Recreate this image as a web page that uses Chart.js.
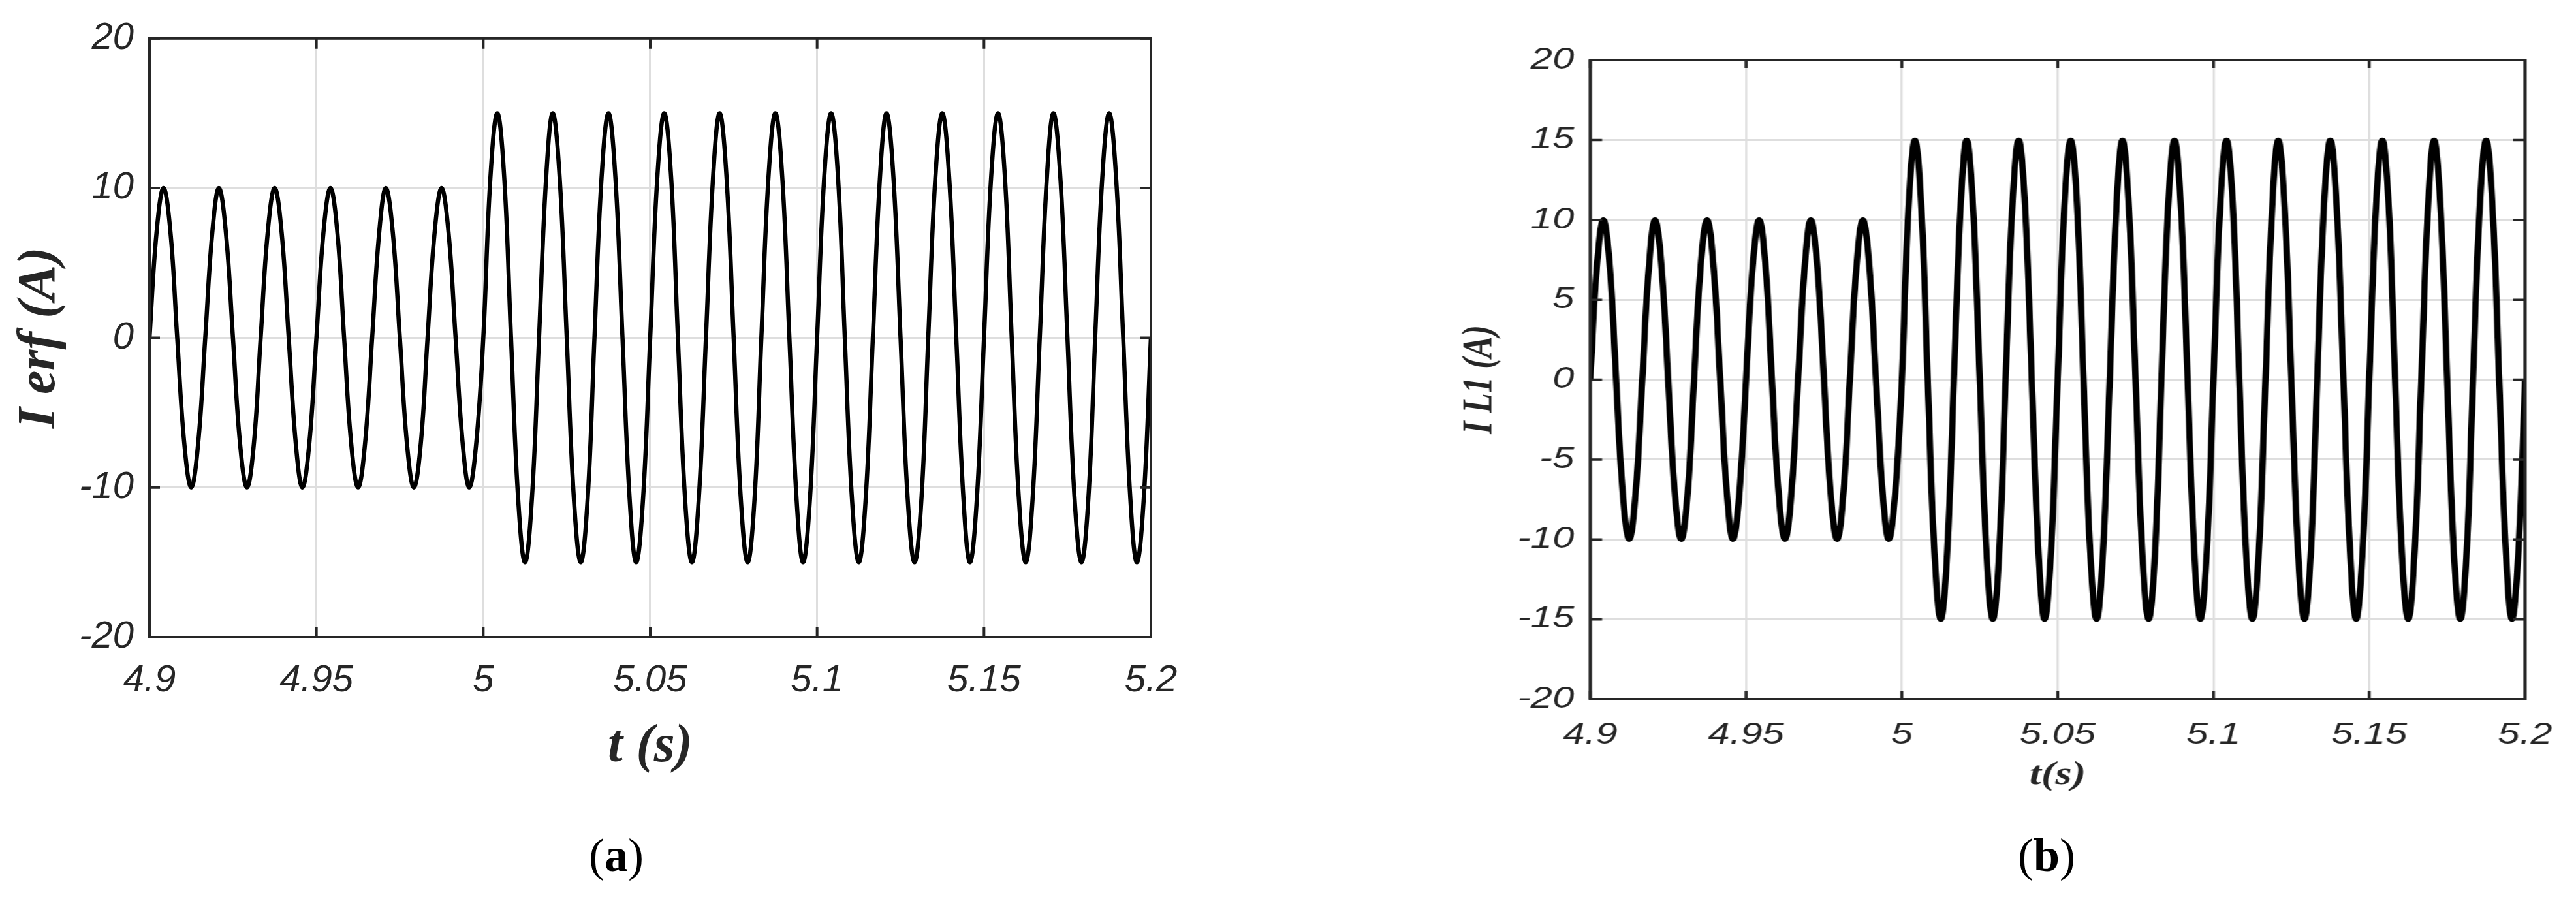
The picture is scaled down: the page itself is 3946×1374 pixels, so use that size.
<!DOCTYPE html>
<html>
<head>
<meta charset="utf-8">
<script src="https://cdn.jsdelivr.net/npm/chart.js@4/dist/chart.umd.min.js"></script>
<style>
  html, body { margin: 0; padding: 0; background: #ffffff; }
  body { width: 3946px; height: 1374px; position: relative; overflow: hidden; }
  #wrapA { position: absolute; left: 0; top: 0; width: 1900px; height: 1374px; }
  #wrapB { position: absolute; left: 2200px; top: 0; width: 1343px; height: 1374px; transform: scaleX(1.3); transform-origin: 0 0; }
  .cap { position: absolute; top: 1310px; transform: translate(-50%, -50%); font-family: "Liberation Serif", "Times New Roman", serif; font-size: 72px; color: #000; white-space: nowrap; line-height: 1; }
  #capA { left: 944px; }
  #capB { left: 3135px; }
</style>
</head>
<body>
<div id="wrapA"><canvas id="chartA" width="1900" height="1374"></canvas></div>
<div id="wrapB"><canvas id="chartB" width="1343" height="1374"></canvas></div>
<div class="cap" id="capA">(<b>a</b>)</div>
<div class="cap" id="capB">(<b>b</b>)</div>
<script>
// ---------- data ----------
// (a) reference current I erf (A) versus t (s): zero crossings, half-rise points, peaks, troughs
const timeA = [
  4.9, 4.9021, 4.9042, 4.9063, 4.9083, 4.9104, 4.9125, 4.9146,
  4.9167, 4.9188, 4.9208, 4.9229, 4.925, 4.9271, 4.9292, 4.9313,
  4.9333, 4.9354, 4.9375, 4.9396, 4.9417, 4.9438, 4.9458, 4.9479,
  4.95, 4.9521, 4.9542, 4.9563, 4.9583, 4.9604, 4.9625, 4.9646,
  4.9667, 4.9688, 4.9708, 4.9729, 4.975, 4.9771, 4.9792, 4.9813,
  4.9833, 4.9854, 4.9875, 4.9896, 4.9917, 4.9938, 4.9958, 4.9979,
  5.0, 5.0021, 5.0042, 5.0063, 5.0083, 5.0104, 5.0125, 5.0146,
  5.0167, 5.0188, 5.0208, 5.0229, 5.025, 5.0271, 5.0292, 5.0313,
  5.0333, 5.0354, 5.0375, 5.0396, 5.0417, 5.0438, 5.0458, 5.0479,
  5.05, 5.0521, 5.0542, 5.0563, 5.0583, 5.0604, 5.0625, 5.0646,
  5.0667, 5.0688, 5.0708, 5.0729, 5.075, 5.0771, 5.0792, 5.0813,
  5.0833, 5.0854, 5.0875, 5.0896, 5.0917, 5.0938, 5.0958, 5.0979,
  5.1, 5.1021, 5.1042, 5.1063, 5.1083, 5.1104, 5.1125, 5.1146,
  5.1167, 5.1188, 5.1208, 5.1229, 5.125, 5.1271, 5.1292, 5.1313,
  5.1333, 5.1354, 5.1375, 5.1396, 5.1417, 5.1438, 5.1458, 5.1479,
  5.15, 5.1521, 5.1542, 5.1563, 5.1583, 5.1604, 5.1625, 5.1646,
  5.1667, 5.1688, 5.1708, 5.1729, 5.175, 5.1771, 5.1792, 5.1813,
  5.1833, 5.1854, 5.1875, 5.1896, 5.1917, 5.1938, 5.1958, 5.1979,
  5.2];
const currentA = [
  0, 7, 10, 7, 0, -7, -10, -7,
  0, 7, 10, 7, 0, -7, -10, -7,
  0, 7, 10, 7, 0, -7, -10, -7,
  0, 7, 10, 7, 0, -7, -10, -7,
  0, 7, 10, 7, 0, -7, -10, -7,
  0, 7, 10, 7, 0, -7, -10, -7,
  0, 10.6, 15, 10.6, 0, -10.6, -15, -10.6,
  0, 10.6, 15, 10.6, 0, -10.6, -15, -10.6,
  0, 10.6, 15, 10.6, 0, -10.6, -15, -10.6,
  0, 10.6, 15, 10.6, 0, -10.6, -15, -10.6,
  0, 10.6, 15, 10.6, 0, -10.6, -15, -10.6,
  0, 10.6, 15, 10.6, 0, -10.6, -15, -10.6,
  0, 10.6, 15, 10.6, 0, -10.6, -15, -10.6,
  0, 10.6, 15, 10.6, 0, -10.6, -15, -10.6,
  0, 10.6, 15, 10.6, 0, -10.6, -15, -10.6,
  0, 10.6, 15, 10.6, 0, -10.6, -15, -10.6,
  0, 10.6, 15, 10.6, 0, -10.6, -15, -10.6,
  0, 10.6, 15, 10.6, 0, -10.6, -15, -10.6,
  0];

// (b) load current I L1 (A) versus t (s)
const timeB = [
  4.9, 4.9021, 4.9042, 4.9063, 4.9083, 4.9104, 4.9125, 4.9146,
  4.9167, 4.9188, 4.9208, 4.9229, 4.925, 4.9271, 4.9292, 4.9313,
  4.9333, 4.9354, 4.9375, 4.9396, 4.9417, 4.9438, 4.9458, 4.9479,
  4.95, 4.9521, 4.9542, 4.9563, 4.9583, 4.9604, 4.9625, 4.9646,
  4.9667, 4.9688, 4.9708, 4.9729, 4.975, 4.9771, 4.9792, 4.9813,
  4.9833, 4.9854, 4.9875, 4.9896, 4.9917, 4.9938, 4.9958, 4.9979,
  5.0, 5.0021, 5.0042, 5.0063, 5.0083, 5.0104, 5.0125, 5.0146,
  5.0167, 5.0188, 5.0208, 5.0229, 5.025, 5.0271, 5.0292, 5.0313,
  5.0333, 5.0354, 5.0375, 5.0396, 5.0417, 5.0438, 5.0458, 5.0479,
  5.05, 5.0521, 5.0542, 5.0563, 5.0583, 5.0604, 5.0625, 5.0646,
  5.0667, 5.0688, 5.0708, 5.0729, 5.075, 5.0771, 5.0792, 5.0813,
  5.0833, 5.0854, 5.0875, 5.0896, 5.0917, 5.0938, 5.0958, 5.0979,
  5.1, 5.1021, 5.1042, 5.1063, 5.1083, 5.1104, 5.1125, 5.1146,
  5.1167, 5.1188, 5.1208, 5.1229, 5.125, 5.1271, 5.1292, 5.1313,
  5.1333, 5.1354, 5.1375, 5.1396, 5.1417, 5.1438, 5.1458, 5.1479,
  5.15, 5.1521, 5.1542, 5.1563, 5.1583, 5.1604, 5.1625, 5.1646,
  5.1667, 5.1688, 5.1708, 5.1729, 5.175, 5.1771, 5.1792, 5.1813,
  5.1833, 5.1854, 5.1875, 5.1896, 5.1917, 5.1938, 5.1958, 5.1979,
  5.2];
const currentB = [
  0, 7, 10, 7, 0, -7, -10, -7,
  0, 7, 10, 7, 0, -7, -10, -7,
  0, 7, 10, 7, 0, -7, -10, -7,
  0, 7, 10, 7, 0, -7, -10, -7,
  0, 7, 10, 7, 0, -7, -10, -7,
  0, 7, 10, 7, 0, -7, -10, -7,
  0, 10.6, 15, 10.6, 0, -10.6, -15, -10.6,
  0, 10.6, 15, 10.6, 0, -10.6, -15, -10.6,
  0, 10.6, 15, 10.6, 0, -10.6, -15, -10.6,
  0, 10.6, 15, 10.6, 0, -10.6, -15, -10.6,
  0, 10.6, 15, 10.6, 0, -10.6, -15, -10.6,
  0, 10.6, 15, 10.6, 0, -10.6, -15, -10.6,
  0, 10.6, 15, 10.6, 0, -10.6, -15, -10.6,
  0, 10.6, 15, 10.6, 0, -10.6, -15, -10.6,
  0, 10.6, 15, 10.6, 0, -10.6, -15, -10.6,
  0, 10.6, 15, 10.6, 0, -10.6, -15, -10.6,
  0, 10.6, 15, 10.6, 0, -10.6, -15, -10.6,
  0, 10.6, 15, 10.6, 0, -10.6, -15, -10.6,
  0];

// tick values and labels
const xTickValues = [4.9, 4.95, 5.0, 5.05, 5.1, 5.15, 5.2];
const xTickLabels = ['4.9', '4.95', '5', '5.05', '5.1', '5.15', '5.2'];
const yTickValuesA = [-20, -10, 0, 10, 20];
const yTickLabelsA = ['-20', '-10', '0', '10', '20'];
const yTickValuesB = [-20, -15, -10, -5, 0, 5, 10, 15, 20];
const yTickLabelsB = ['-20', '-15', '-10', '-5', '0', '5', '10', '15', '20'];

// axis titles
const titleXA = 't (s)';
const titleYA = 'I erf (A)';
const titleXB = 't(s)';
const titleYB = 'I L1 (A)';

// ---------- helpers ----------
const AXIS_COLOR = '#262626';
const GRID_COLOR = '#dedede';

const framePlugin = {
  id: 'frame',
  afterDraw(chart, args, o) {
    const { ctx, chartArea: a, scales } = chart;
    const x = scales.x, y = scales.y;
    ctx.save();
    ctx.strokeStyle = AXIS_COLOR;
    ctx.lineCap = 'butt';
    ctx.lineWidth = o.tickWidth;
    ctx.beginPath();
    x.ticks.forEach(t => {
      const px = x.getPixelForValue(t.value);
      ctx.moveTo(px, a.bottom); ctx.lineTo(px, a.bottom - o.xLen);
      ctx.moveTo(px, a.top); ctx.lineTo(px, a.top + o.xLen);
    });
    y.ticks.forEach(t => {
      const py = y.getPixelForValue(t.value);
      ctx.moveTo(a.left, py); ctx.lineTo(a.left + o.yLen, py);
      ctx.moveTo(a.right, py); ctx.lineTo(a.right - o.yLen, py);
    });
    ctx.stroke();
    ctx.lineWidth = o.boxWidth;
    ctx.strokeRect(a.left, a.top, a.right - a.left, a.bottom - a.top);
    ctx.restore();
  }
};

function makeChart(id, times, values, cfg) {
  const pts = times.map((t, i) => ({ x: t, y: values[i] }));
  return new Chart(document.getElementById(id), {
    type: 'line',
    data: {
      datasets: [{
        data: pts,
        borderColor: '#000000',
        borderWidth: cfg.lineWidth,
        pointRadius: 0,
        fill: false,
        tension: 0.4,
        borderJoinStyle: 'round'
      }]
    },
    options: {
      responsive: false,
      animation: false,
      events: [],
      layout: { padding: { left: 0, top: cfg.top, right: cfg.padRight, bottom: 0 } },
      plugins: { legend: { display: false }, tooltip: { enabled: false }, frame: cfg.frame },
      scales: {
        x: {
          type: 'linear',
          min: 4.9, max: 5.2,
          afterBuildTicks: s => { s.ticks = xTickValues.map(v => ({ value: v })); },
          afterFit: s => { s.height = cfg.xHeight; },
          grid: { color: GRID_COLOR, lineWidth: cfg.xGridWidth, drawTicks: false },
          border: { display: false },
          ticks: {
            autoSkip: false, maxRotation: 0, padding: cfg.xTickPad, color: AXIS_COLOR,
            font: { family: 'Liberation Sans', style: 'italic', size: cfg.tickSize },
            callback: (v, i) => xTickLabels[i]
          },
          title: {
            display: true, text: cfg.titleX, color: AXIS_COLOR,
            font: { family: 'Liberation Serif', style: 'italic', weight: 'bold', size: cfg.titleSize },
            padding: { top: 0, bottom: cfg.xTitlePad }
          }
        },
        y: {
          type: 'linear',
          min: -20, max: 20,
          afterBuildTicks: s => { s.ticks = cfg.yVals.map(v => ({ value: v })); },
          afterFit: s => { s.width = cfg.yWidth; },
          grid: { color: GRID_COLOR, lineWidth: cfg.yGridWidth, drawTicks: false },
          border: { display: false },
          ticks: {
            autoSkip: false, padding: cfg.yTickPad, color: AXIS_COLOR,
            font: { family: 'Liberation Sans', style: 'italic', size: cfg.tickSize },
            callback: (v, i) => cfg.yLabels[i]
          },
          title: {
            display: true, text: cfg.titleY, color: AXIS_COLOR,
            font: { family: 'Liberation Serif', style: 'italic', weight: 'bold', size: cfg.titleSize },
            padding: { top: cfg.yTitlePad, bottom: 0 }
          }
        }
      }
    },
    plugins: [framePlugin]
  });
}

// (a)
makeChart('chartA', timeA, currentA, {
  lineWidth: 6.5,
  top: 43, padRight: 1900 - 1763,
  yWidth: 229, xHeight: 1374 - 976,
  xGridWidth: 3, yGridWidth: 3,
  tickSize: 58, xTickPad: 32, yTickPad: 24,
  titleSize: 82, xTitlePad: 180, yTitlePad: 13,
  titleX: titleXA, titleY: titleYA,
  yVals: yTickValuesA, yLabels: yTickLabelsA,
  frame: { tickWidth: 4, boxWidth: 4, xLen: 16, yLen: 16 }
});

// (b) (drawn in a horizontally stretched box)
makeChart('chartB', timeB, currentB, {
  lineWidth: 7.5,
  top: 92, padRight: 1343 - 1290.8,
  yWidth: 181.5, xHeight: 1374 - 1071,
  xGridWidth: 2.5, yGridWidth: 3,
  tickSize: 46, xTickPad: 28, yTickPad: 19,
  titleSize: 50, xTitlePad: 156, yTitlePad: 22,
  titleX: titleXB, titleY: titleYB,
  yVals: yTickValuesB, yLabels: yTickLabelsB,
  frame: { tickWidth: 3.5, boxWidth: 4, xLen: 12, yLen: 14 }
});
</script>
</body>
</html>
